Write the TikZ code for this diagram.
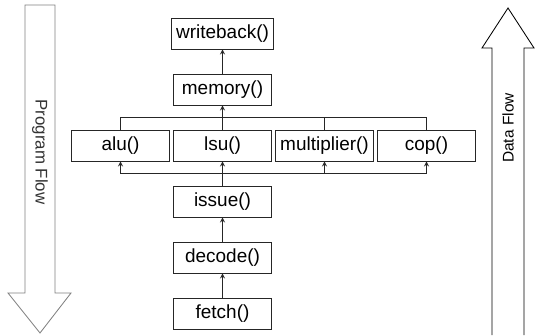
\documentclass[tikz,border=0pt]{standalone}
\usepackage{fontspec}
\setmainfont{Liberation Sans}
\usepackage{tikz}
\usetikzlibrary{arrows, calc}

\begin{document}
\begin{tikzpicture}[node distance=1.4cm]
\tikzstyle{stage} = [rectangle, minimum width=2.45cm, minimum height=0.775cm, text centered, draw=black!85, line width=0.6pt, font=\fontsize{13.5}{15}\selectfont]
\tikzstyle{bus} = [draw=black!85, line width=0.6pt]
\tikzstyle{arrow} = [draw=black!85, line width=0.6pt,->,>=stealth]
\tikzstyle{flow} = [line width=0.6pt]

\useasboundingbox (0,0) rectangle (13.375,-8.375);

\node (fetch) [stage] at (5.5625,-7.8375) {fetch()};
\node (decode) [stage, above of=fetch] {decode()};
\node (issue) [stage, above of=decode] {issue()};
\node (lsu) [stage, above of=issue] {lsu()};
\node (alu) [stage, left of=lsu, xshift=-1.15cm] {alu()};
\node (mult) [stage, right of=lsu, xshift=1.15cm] {multiplier()};
\node (cop) [stage, right of=mult, xshift=1.15cm] {cop()};
\node (memory) [stage, above of=lsu] {memory()};
\node (writeback) [stage, above of=memory] {writeback()};

\coordinate (inbus) at ($(lsu.south)!0.5!(issue.north)$);
\coordinate (outbus) at ($(memory.south)!0.5!(lsu.north)$);

\draw [arrow] (fetch) -- (decode);
\draw [arrow] (decode) -- (issue);
\draw [arrow] (issue) -- (lsu);
\draw [bus] (alu.south |- inbus) -- (cop.south |- inbus);
\draw [arrow] (alu.south |- inbus) -- (alu);
\draw [arrow] (mult.south |- inbus) -- (mult);
\draw [arrow] (cop.south |- inbus) -- (cop);
\draw [bus] (alu.north) |- (outbus) -| (cop.north);
\draw [bus] (lsu.north) -- (outbus);
\draw [bus] (mult.north) -- (mult.north |- outbus);
\draw [arrow] (outbus) -- (memory);
\draw [arrow] (memory) -- (writeback);

\draw [flow, draw=black!50] (0.625,-0.125) -- (1.375,-0.125) -- (1.375,-7.325) -- (1.775,-7.325) -- (1.0,-8.325) -- (0.2,-7.325) -- (0.625,-7.325) -- cycle;
\node (progflow) [rotate=-90, text=black!80, font=\fontsize{12}{14}\selectfont] at (1.0,-3.8) {Program Flow};

\draw [flow] (12.3,-8.375) -- (12.3,-1.2) -- (12.05,-1.2) -- (12.7,-0.2) -- (13.35,-1.2) -- (13.1,-1.2) -- (13.1,-8.375);
\node (dataflow) [rotate=90, font=\fontsize{11}{13}\selectfont] at (12.7,-3.2) {Data Flow};
\end{tikzpicture}
\end{document}
